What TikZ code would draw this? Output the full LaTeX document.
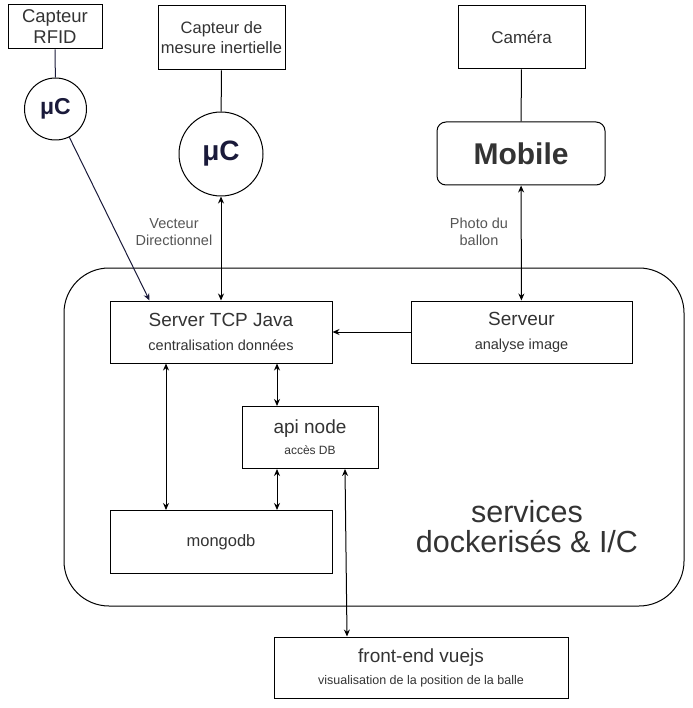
\documentclass[tikz,border=0pt]{standalone}
\usepackage{fontspec}
\setmainfont{Liberation Sans}
\usetikzlibrary{arrows.meta}
\definecolor{encre}{HTML}{1A1A3A}
\definecolor{texte}{HTML}{333333}
\definecolor{gris}{HTML}{555555}
\newcommand{\titre}[1]{{\fontsize{19}{20}\selectfont #1}}
\newcommand{\sous}[1]{{\fontsize{14.5}{15}\selectfont #1}}
\begin{document}
\begin{tikzpicture}[x=1pt,y=-1pt,>={Stealth[length=7pt,width=6pt]},
	boite/.style={draw,line width=1pt,inner sep=0pt,align=center,text=texte},
	deux/.style={font=\fontsize{14.5}{24}\selectfont},
	rond/.style={draw,circle,line width=1pt,inner sep=0pt,text=encre,font=\bfseries},
	lien/.style={line width=1pt},
	legende/.style={align=center,text=gris,font=\fontsize{14.5}{17}\selectfont}]
		\useasboundingbox (0,0) rectangle (692,708);
		%Conteneur
		\draw[line width=1pt,rounded corners=45pt] (64,268) rectangle (684,606);
		\node[text=texte,align=center,font=\fontsize{30.5}{30}\selectfont] (docker) at (527,527) {services\\dockerisés \& I/C};
		%Capteurs
		\node[boite,minimum width=94pt,minimum height=44pt,font=\fontsize{18.5}{21}\selectfont] (rfid) at (55,27) {Capteur\\RFID};
		\node[rond,minimum size=62pt,font=\bfseries\fontsize{23}{23}\selectfont] (uc1) at (55.5,109) {μC};
		\node[boite,minimum width=127pt,minimum height=64pt,font=\fontsize{16.5}{20}\selectfont] (imu) at (221.5,38) {Capteur de\\mesure inertielle};
		\node[rond,minimum size=84pt,font=\bfseries\fontsize{28}{28}\selectfont] (uc2) at (221,154) {μC};
		\node[boite,minimum width=127pt,minimum height=63pt,font=\fontsize{17}{20}\selectfont] (cam) at (521.5,37.5) {Caméra};
		\node[boite,rounded corners=9pt,minimum width=168pt,minimum height=63pt,font=\bfseries\fontsize{30}{30}\selectfont] (mobile) at (521,153.5) {Mobile};
		%Services
		\node[boite,deux,minimum width=222pt,minimum height=62pt] (tcp) at (221,332) {\titre{Server TCP Java}\\\sous{centralisation données}};
		\node[boite,deux,minimum width=221pt,minimum height=62pt] (serveur) at (521.5,332) {\titre{Serveur}\\\sous{analyse image}};
		\node[boite,minimum width=136pt,minimum height=62pt,font=\fontsize{12}{21}\selectfont] (api) at (310,437.5) {\titre{api node}\\accès DB};
		\node[boite,minimum width=222pt,minimum height=63pt,font=\fontsize{16.5}{20}\selectfont] (mongo) at (221,542) {mongodb};
		\node[boite,minimum width=294pt,minimum height=61pt,font=\fontsize{12.5}{22}\selectfont] (front) at (421,667.5) {\titre{front-end vuejs}\\visualisation de la position de la balle};
		%Legendes
		\node[legende] (vecteur) at (174,232) {Vecteur\\Directionnel};
		\node[legende] (photo) at (479,232) {Photo du\\ballon};
		%Liens
		\draw[lien,encre] (rfid) -- (uc1);
		\draw[lien,encre,->] (uc1) -- ([xshift=40pt]tcp.north west);
		\draw[lien] (imu) -- (uc2);
		\draw[lien,<->] (uc2) -- (tcp);
		\draw[lien] (cam) -- (mobile);
		\draw[lien,<->] (mobile) -- (serveur);
		\draw[lien,->] (serveur) -- (tcp);
		\draw[lien,<->] ([xshift=-55pt]tcp.south) -- ([xshift=-55pt]mongo.north);
		\draw[lien,<->] ([xshift=56pt]tcp.south) -- ([xshift=-33pt]api.north);
		\draw[lien,<->] ([xshift=-33pt]api.south) -- ([xshift=56pt]mongo.north);
		\draw[lien,<->] ([xshift=35pt]api.south) -- ([xshift=-74pt]front.north);
\end{tikzpicture}
\end{document}
